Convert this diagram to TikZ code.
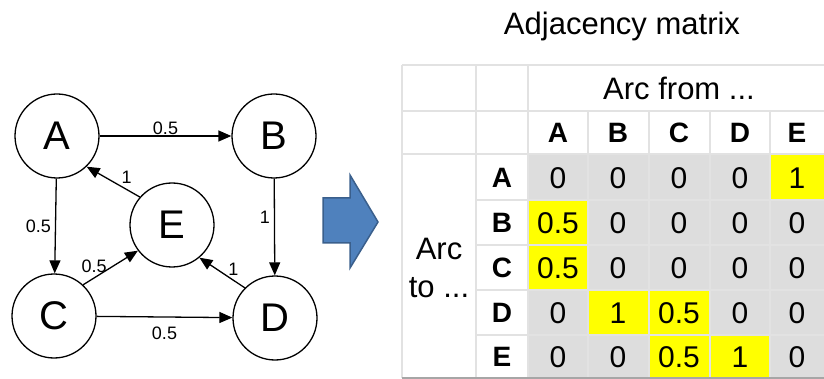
\documentclass[tikz,border=0pt]{standalone}
\usepackage{fontspec}
\setmainfont{Liberation Sans}
\usetikzlibrary{arrows.meta}

\definecolor{gridline}{HTML}{E2E2E2}
\definecolor{cellgray}{HTML}{DDDDDD}
\definecolor{hilite}{HTML}{FFFF00}
\definecolor{arrowfill}{HTML}{4F81BD}
\definecolor{arrowedge}{HTML}{3A5F8C}

\tikzset{
  vertex/.style={circle, draw, line width=1.3pt, minimum size=84pt, inner sep=0pt,
                 font=\fontsize{40}{48}\selectfont},
  arc/.style={line width=1.3pt, -{Triangle[length=13pt,width=11pt]}},
  weight/.style={font=\fontsize{18}{20}\selectfont, inner sep=1pt},
  hdr/.style={font=\fontsize{28}{32}\selectfont\bfseries, inner sep=0pt},
  val/.style={font=\fontsize{30}{34}\selectfont, inner sep=0pt},
  grid/.style={draw=gridline, line width=1.5pt},
}

\begin{document}
\begin{tikzpicture}[x=1pt, y=-1pt]
\useasboundingbox (0,0) rectangle (824,379);

% ---------- graph ----------
\node[vertex] (A) at (57,136) {A};
\node[vertex] (B) at (274,136) {B};
\node[vertex] (C) at (54,316) {C};
\node[vertex] (D) at (275,318) {D};
\node[vertex] (E) at (172,225) {E};

\draw[arc] (A) -- node[weight, above] {0.5} (B);
\draw[arc] (A) -- node[weight, left=3pt] {0.5} (C);
\draw[arc] (B) -- node[weight, left=3pt, pos=0.4] {1} (D);
\draw[arc] (C) -- node[weight, below=8pt] {0.5} (D);
\draw[arc] (E.139) -- node[weight, above=4pt, pos=0.25] {1} (A.-46);
\draw[arc] (C.47) -- node[weight, above=4pt, pos=0.2] {0.5} (E.217);
\draw[arc] (D.135) -- node[weight, above=3pt, pos=0.25] {1} (E.-50);

% ---------- block arrow ----------
\draw[fill=arrowfill, draw=arrowedge, line width=1.5pt, line join=miter]
  (323,198) -- (350,198) -- (350,175) -- (378,222) -- (350,268)
  -- (350,243) -- (323,243) -- cycle;

% ---------- matrix ----------
\node[font=\fontsize{31}{36}\selectfont, anchor=base] (title) at (622,35) {Adjacency matrix};

\fill[cellgray] (528,154) rectangle (824,378);
\fill[hilite] (770,154) rectangle (824,200);
\fill[hilite] (528,200) rectangle (588,245);
\fill[hilite] (528,245) rectangle (588,290);
\fill[hilite] (588,290) rectangle (649,335);
\fill[hilite] (649,290) rectangle (710,335);
\fill[hilite] (649,335) rectangle (710,378);
\fill[hilite] (710,335) rectangle (770,378);

% grid
\foreach \yy in {65,111,154} \draw[grid] (402,\yy) -- (824,\yy);
\foreach \yy in {200,245,290,335} \draw[grid] (476,\yy) -- (824,\yy);
\foreach \xx in {402,476,528} \draw[grid] (\xx,65) -- (\xx,378);
\foreach \xx in {588,649,710,770} \draw[grid] (\xx,111) -- (\xx,378);
\draw[draw=gray!70, line width=1.2pt] (402,378) -- (824,378);

% header texts
\node[font=\fontsize{31}{36}\selectfont, anchor=base] (from) at (679,100) {Arc from ...};
\node[font=\fontsize{31}{38}\selectfont, align=center] (to) at (439,268) {Arc\\to ...};

\node[hdr] (hA) at (558,133) {A};
\node[hdr] (hB) at (618,133) {B};
\node[hdr] (hC) at (679,133) {C};
\node[hdr] (hD) at (740,133) {D};
\node[hdr] (hE) at (797,133) {E};

\node[hdr] (rA) at (502,178) {A};
\node[hdr] (rB) at (502,223) {B};
\node[hdr] (rC) at (502,268) {C};
\node[hdr] (rD) at (502,313) {D};
\node[hdr] (rE) at (502,357) {E};

% values: row = arc to, column = arc from
\node[val] (aa) at (558,178) {0};
\node[val] (ab) at (618,178) {0};
\node[val] (ac) at (679,178) {0};
\node[val] (ad) at (740,178) {0};
\node[val] (ae) at (797,178) {1};

\node[val] (ba) at (558,223) {0.5};
\node[val] (bb) at (618,223) {0};
\node[val] (bc) at (679,223) {0};
\node[val] (bd) at (740,223) {0};
\node[val] (be) at (797,223) {0};

\node[val] (ca) at (558,268) {0.5};
\node[val] (cb) at (618,268) {0};
\node[val] (cc) at (679,268) {0};
\node[val] (cd) at (740,268) {0};
\node[val] (ce) at (797,268) {0};

\node[val] (da) at (558,313) {0};
\node[val] (db) at (618,313) {1};
\node[val] (dc) at (679,313) {0.5};
\node[val] (dd) at (740,313) {0};
\node[val] (de) at (797,313) {0};

\node[val] (ea) at (558,357) {0};
\node[val] (eb) at (618,357) {0};
\node[val] (ec) at (679,357) {0.5};
\node[val] (ed) at (740,357) {1};
\node[val] (ee) at (797,357) {0};
\end{tikzpicture}
\end{document}
